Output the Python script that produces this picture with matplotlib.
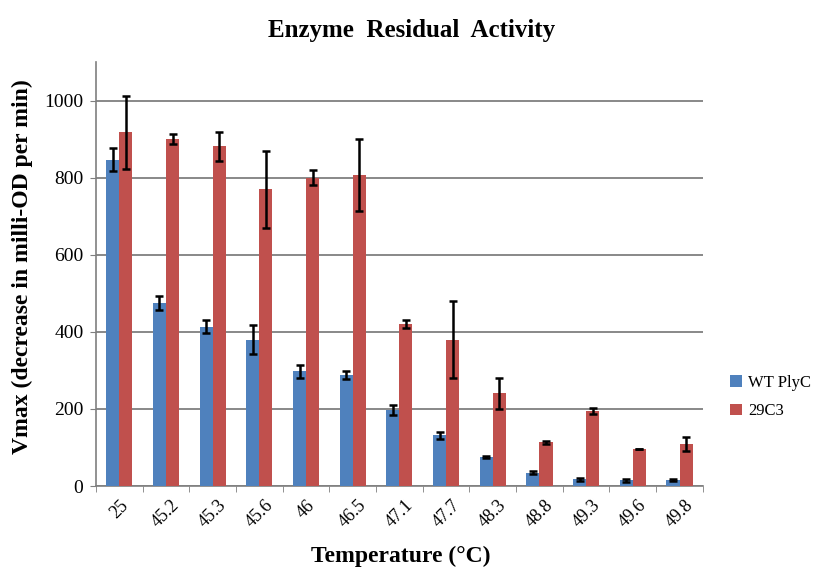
import matplotlib.pyplot as plt
import numpy as np

temps = ['25', '45.2', '45.3', '45.6', '46', '46.5', '47.1', '47.7', '48.3', '48.8', '49.3', '49.6', '49.8']
wt_vals = [847, 475, 413, 380, 298, 288, 197, 132, 76, 35, 17, 15, 15]
wt_err = [30, 19, 17, 37, 17, 11, 13, 9, 3, 3, 3, 4, 3]
mut_vals = [918, 899, 881, 770, 800, 806, 421, 380, 240, 113, 194, 95, 109]
mut_err = [95, 13, 38, 100, 19, 93, 10, 100, 40, 3, 8, 0, 17]

serif = 'Liberation Serif'

fig = plt.figure(figsize=(8.23, 5.74), dpi=100)
ax = fig.add_axes([0.1166, 0.1533, 0.7374, 0.7387])

x = np.arange(len(temps))
w = 0.28
ekw = dict(ecolor='black', elinewidth=1.8, capsize=3, capthick=1.8)
ax.bar(x - w / 2, wt_vals, w, yerr=wt_err, color='#4F81BD', label='WT PlyC', error_kw=ekw, zorder=3)
ax.bar(x + w / 2, mut_vals, w, yerr=mut_err, color='#C0504D', label='29C3', error_kw=ekw, zorder=3)

ax.set_xlim(-0.5, len(temps) - 0.5)
ax.set_ylim(0, 1100)
ax.set_yticks(range(0, 1001, 200))
ax.yaxis.grid(True, color='#7f7f7f', linewidth=1.3, zorder=0)
ax.set_axisbelow(True)

ax.set_xticks(x)
ax.set_xticklabels(temps, rotation=45, fontsize=13, family=serif)
ax.tick_params(axis='x', length=0, pad=8)
ax.set_xticks(np.arange(-0.5, len(temps)), minor=True)
ax.tick_params(axis='x', which='minor', length=4, color='#7f7f7f')
ax.tick_params(axis='y', labelsize=14, length=4, color='#7f7f7f', pad=5)
for lab in ax.get_yticklabels():
    lab.set_family(serif)

for s in ['top', 'right']:
    ax.spines[s].set_visible(False)
for s in ['left', 'bottom']:
    ax.spines[s].set_color('#7f7f7f')
    ax.spines[s].set_linewidth(1.2)

fig.text(0.5, 1 - 30 / 574, 'Enzyme  Residual  Activity', family=serif, fontweight='bold',
         fontsize=18, ha='center', va='center')
fig.text(401 / 823, 1 - 556 / 574, 'Temperature (°C)', family=serif, fontweight='bold',
         fontsize=17, ha='center', va='center')
fig.text(22 / 823, 1 - 267 / 574, 'Vmax (decrease in milli-OD per min)', family=serif,
         fontweight='bold', fontsize=17, ha='center', va='center', rotation=90)

leg = ax.legend(loc='center left', bbox_to_anchor=(1.02, 0.21), frameon=False,
                prop={'family': serif, 'size': 12}, handlelength=0.7, handleheight=0.7,
                labelspacing=0.75, handletextpad=0.4)

fig.savefig('out.png', dpi=100)
